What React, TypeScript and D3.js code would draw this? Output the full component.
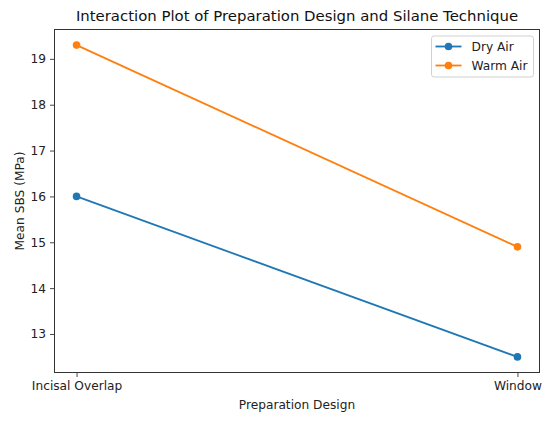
import * as d3 from 'd3';
import { useEffect, useRef } from 'react';

const designs = ['Incisal Overlap', 'Window'];
const dryAir = [16.0, 12.5];
const warmAir = [19.3, 14.9];
const yTicks = [13, 14, 15, 16, 17, 18, 19];

const series = [
  { name: 'Dry Air', values: dryAir, color: '#1f77b4' },
  { name: 'Warm Air', values: warmAir, color: '#ff7f0e' },
];

export default function App() {
  const ref = useRef<SVGSVGElement | null>(null);

  useEffect(() => {
    if (!ref.current) return;
    const svg = d3.select(ref.current);
    svg.selectAll('*').remove();

    const width = 550;
    const height = 423;
    const m = { left: 54.5, right: 539.5, top: 29.5, bottom: 372.5 };
    const font = 'DejaVu Sans, sans-serif';
    const fs = 12.2;

    svg.append('rect').attr('width', width).attr('height', height).attr('fill', '#fff');

    const x = d3.scaleLinear().domain([-0.05, 1.05]).range([m.left, m.right]);
    const y = d3.scaleLinear().domain([12.16, 19.64]).range([m.bottom, m.top]);

    // lines + markers
    const line = d3.line<number>()
      .x((_, i) => x(i))
      .y((d) => y(d));

    series.forEach((s) => {
      svg.append('path')
        .datum(s.values)
        .attr('d', line)
        .attr('fill', 'none')
        .attr('stroke', s.color)
        .attr('stroke-width', 1.8);
      svg.append('g')
        .selectAll('circle')
        .data(s.values)
        .join('circle')
        .attr('cx', (_, i) => x(i))
        .attr('cy', (d) => y(d))
        .attr('r', 3.8)
        .attr('fill', s.color);
    });

    // axes
    const yAxis = svg.append('g')
      .attr('transform', `translate(${m.left},0)`)
      .call(d3.axisLeft(y).tickValues(yTicks).tickSize(4.5).tickPadding(4).tickSizeOuter(0));
    yAxis.select('.domain').remove();
    yAxis.selectAll('line').attr('stroke', '#333').attr('stroke-width', 0.9);
    yAxis.selectAll('text').attr('font-family', font).attr('font-size', fs).attr('fill', '#222');

    const xAxis = svg.append('g')
      .attr('transform', `translate(0,${m.bottom})`)
      .call(d3.axisBottom(x).tickValues([0, 1]).tickFormat((d) => designs[d as number]).tickSize(4.5).tickPadding(4).tickSizeOuter(0));
    xAxis.select('.domain').remove();
    xAxis.selectAll('line').attr('stroke', '#333').attr('stroke-width', 0.9);
    xAxis.selectAll('text').attr('font-family', font).attr('font-size', fs).attr('fill', '#222');

    // frame
    svg.append('rect')
      .attr('x', m.left).attr('y', m.top)
      .attr('width', m.right - m.left).attr('height', m.bottom - m.top)
      .attr('fill', 'none').attr('stroke', '#333').attr('stroke-width', 1);

    // title and labels
    svg.append('text')
      .attr('x', (m.left + m.right) / 2).attr('y', 21)
      .attr('text-anchor', 'middle')
      .attr('font-family', font).attr('font-size', 14.9).attr('fill', '#111')
      .text('Interaction Plot of Preparation Design and Silane Technique');

    svg.append('text')
      .attr('x', (m.left + m.right) / 2).attr('y', 409)
      .attr('text-anchor', 'middle')
      .attr('font-family', font).attr('font-size', fs).attr('fill', '#222')
      .text('Preparation Design');

    svg.append('text')
      .attr('transform', `translate(24,${(m.top + m.bottom) / 2}) rotate(-90)`)
      .attr('text-anchor', 'middle')
      .attr('font-family', font).attr('font-size', fs).attr('fill', '#222')
      .text('Mean SBS (MPa)');

    // legend
    const lg = svg.append('g').attr('transform', 'translate(431.5,36)');
    lg.append('rect')
      .attr('width', 102).attr('height', 41).attr('rx', 2.5)
      .attr('fill', '#fff').attr('fill-opacity', 0.8)
      .attr('stroke', '#ccc').attr('stroke-width', 0.9);
    series.forEach((s, i) => {
      const cy = 10.5 + i * 19;
      lg.append('line')
        .attr('x1', 4).attr('x2', 30).attr('y1', cy).attr('y2', cy)
        .attr('stroke', s.color).attr('stroke-width', 1.8);
      lg.append('circle').attr('cx', 17).attr('cy', cy).attr('r', 3.8).attr('fill', s.color);
      lg.append('text')
        .attr('x', 40).attr('y', cy + 4.3)
        .attr('font-family', font).attr('font-size', fs).attr('fill', '#222')
        .text(s.name);
    });
  }, []);

  return (
    <svg
      ref={ref}
      width={550}
      height={423}
      style={{ position: 'absolute', left: 0, top: 0, display: 'block' }}
    />
  );
}
